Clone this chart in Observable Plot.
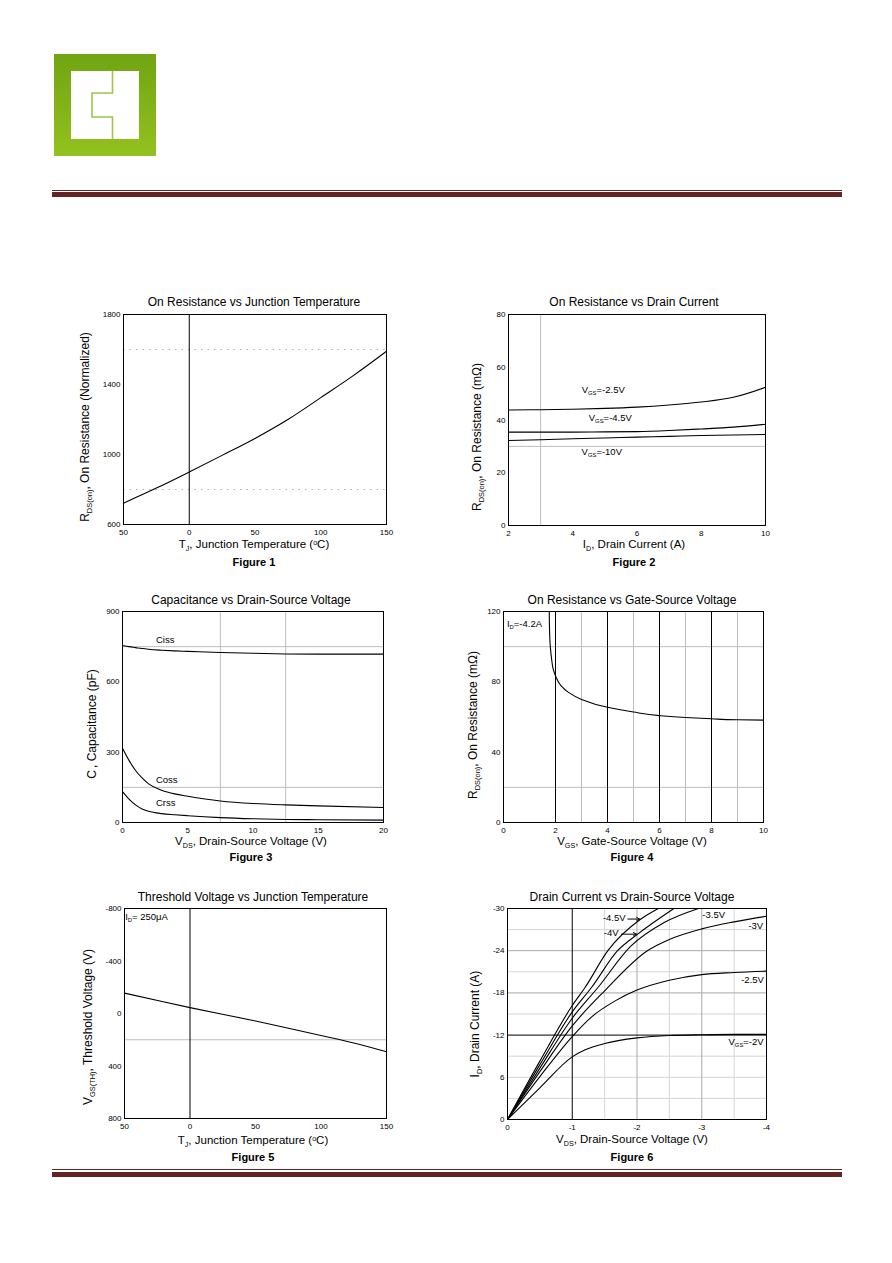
<!DOCTYPE html>
<html>
<head>
<meta charset="utf-8">
<script src="https://cdn.jsdelivr.net/npm/d3@7"></script>
<script src="https://cdn.jsdelivr.net/npm/@observablehq/plot@0.6"></script>
<style>
  html, body { margin: 0; padding: 0; background: #fff; }
  #page { position: relative; width: 892px; height: 1263px; background: #fff; overflow: hidden;
          font-family: 'Liberation Sans', Arial, Helvetica, sans-serif; color: #000; }
  .t { position: absolute; white-space: nowrap; line-height: 1; }
  .s { font-size: 0.62em; position: relative; top: 0.38em; }
  .u { font-size: 0.62em; position: relative; top: -0.45em; }
</style>
</head>
<body>
<div id="page"></div>
<script>
// ---------------- DATA ----------------
// Figure 1: On Resistance vs Junction Temperature
const f1Temp = [-50, -25, 0, 25, 50, 75, 100, 125, 150];
const f1Rds  = [722, 808, 900, 995, 1092, 1200, 1325, 1452, 1590];
const f1XTicks = [-50, 0, 50, 100, 150];
const f1XLabels = ["50", "0", "50", "100", "150"];
const f1YTicks = [600, 1000, 1400, 1800];
const f1Dotted = [800, 1600];
const f1Zero = [0];

// Figure 2: On Resistance vs Drain Current
const f2Id = [2, 3, 4, 5, 6, 7, 8, 9, 10];
const f2Vgs25 = [43.8, 43.9, 44.1, 44.4, 44.9, 45.7, 46.8, 48.6, 52.4];
const f2Vgs45 = [35.4, 35.4, 35.4, 35.5, 35.6, 36.0, 36.6, 37.3, 38.4];
const f2Vgs10 = [32.2, 32.5, 32.9, 33.2, 33.5, 33.8, 34.1, 34.3, 34.5];
const f2XTicks = [2, 4, 6, 8, 10];
const f2YTicks = [0, 20, 40, 60, 80];
const f2GridX = [3];
const f2GridY = [30];

// Figure 3: Capacitance vs Drain-Source Voltage
const f3Vds  = [0, 0.5, 1, 1.5, 2, 3, 4, 5, 7.5, 10, 12.5, 15, 20];
const f3Ciss = [755, 750, 746, 742, 739, 735, 732, 730, 725, 722, 719, 718, 718];
const f3Coss = [317, 265, 222, 190, 165, 138, 122, 112, 92, 81, 75, 71, 64];
const f3Crss = [132, 100, 75, 58, 48, 38, 33, 29, 21, 16, 13, 12, 10];
const f3XTicks = [0, 5, 10, 15, 20];
const f3YTicks = [0, 300, 600, 900];
const f3GridX = [7.5, 12.5];
const f3GridY = [150, 750];

// Figure 4: On Resistance vs Gate-Source Voltage
const f4Vgs = [1.76, 1.77, 1.8, 1.85, 1.9, 2, 2.2, 2.5, 3, 4, 5, 6, 7, 8, 9, 10];
const f4Rds = [120, 110, 100, 93, 88, 83.5, 78, 74, 70, 65.5, 62.8, 60.8, 59.7, 59, 58.4, 58.2];
const f4XTicks = [0, 2, 4, 6, 8, 10];
const f4YTicks = [0, 40, 80, 120];
const f4MajorX = [2, 4, 6, 8];
const f4MinorX = [3, 5, 7, 9];
const f4GridY = [20, 100];

// Figure 5: Threshold Voltage vs Junction Temperature
const f5Temp = [-50, 0, 50, 100, 125, 150];
const f5Vth  = [-155, -45, 57, 168, 225, 292];
const f5XTicks = [-50, 0, 50, 100, 150];
const f5XLabels = ["50", "0", "50", "100", "150"];
const f5YTicks = [-800, -400, 0, 400, 800];
const f5Zero = [0];
const f5GridY = [200];

// Figure 6: Drain Current vs Drain-Source Voltage
const f6Curves = [
  {vgs: "-2V",   vds: [0, -0.5, -1, -1.2, -1.5, -2, -2.5, -3, -3.5, -4],
                 id:  [0, -4.5, -8.9, -9.9, -10.8, -11.6, -11.95, -12.05, -12.1, -12.1]},
  {vgs: "-2.5V", vds: [0, -0.5, -1, -1.3, -1.67, -2, -2.5, -3, -3.5, -4],
                 id:  [0, -6.1, -11.8, -14.6, -16.9, -18.4, -19.8, -20.6, -20.9, -21.1]},
  {vgs: "-3V",   vds: [0, -0.5, -1, -1.5, -2.16, -2.5, -3, -3.5, -4],
                 id:  [0, -6.8, -13.3, -18.3, -24, -25.6, -27.1, -28.1, -28.9]},
  {vgs: "-3.5V", vds: [0, -0.5, -1, -1.4, -1.9, -2.42, -2.95],
                 id:  [0, -7.3, -14.4, -18.8, -24.6, -28, -30]},
  {vgs: "-4V",   vds: [0, -0.5, -1, -1.3, -1.7, -2.01, -2.57],
                 id:  [0, -7.8, -15.3, -18.8, -24, -26.35, -30]},
  {vgs: "-4.5V", vds: [0, -0.5, -1, -1.2, -1.55, -2.06, -2.33],
                 id:  [0, -8.3, -16.2, -18.8, -24, -28.5, -30]}
];
const f6XTicks = [0, -1, -2, -3, -4];
const f6YTicks = [0, -6, -12, -18, -24, -30];
const f6YLabels = ["0", "6", "-12", "-18", "-24", "-30"];
const f6MajorX = [-1];
const f6MidX = [-2, -3];
const f6LightX = [-1.5, -2.5, -3.5];
const f6MajorY = [-12];
const f6MidY = [-18, -24];
const f6LightY = [-3, -6, -9, -15, -21, -27];

// ---------------- HELPERS ----------------
const page = document.getElementById("page");
const TICKFONT = "'Liberation Sans Narrow', 'Liberation Sans', Arial, sans-serif";

function div(css) {
  const d = document.createElement("div");
  Object.assign(d.style, css);
  page.appendChild(d);
  return d;
}
function txt(html, x, y, o = {}) {
  const d = document.createElement("div");
  d.className = "t";
  d.innerHTML = html;
  const size = o.size || 12;
  d.style.fontSize = size + "px";
  if (o.weight) d.style.fontWeight = o.weight;
  d.style.left = x + "px";
  d.style.top = y + "px";
  const ax = o.anchor === "start" ? "0" : o.anchor === "end" ? "-100%" : "-50%";
  d.style.transform = `translate(${ax}, -50%)` + (o.rotate ? ` rotate(${o.rotate}deg)` : "");
  if (o.bg) { d.style.background = o.bg; d.style.padding = "0 4px"; }
  page.appendChild(d);
  return d;
}
function labelMap(ticks, labels) {
  const m = new Map(ticks.map((t, i) => [t, labels ? labels[i] : String(t)]));
  return d => m.get(d);
}
function makePlot(frame, x, y, marks) {
  const [L, T, R, B] = frame;
  const mL = 40, mT = 10, mR = 14, mB = 22;
  const svg = Plot.plot({
    width: R - L + mL + mR, height: B - T + mT + mB,
    marginLeft: mL, marginTop: mT, marginRight: mR, marginBottom: mB,
    style: {fontFamily: TICKFONT, fontSize: "8px", background: "transparent", overflow: "visible"},
    x: {tickSize: 0, tickPadding: 5, label: null, ...x},
    y: {tickSize: 0, tickPadding: 3, label: null, ...y},
    marks
  });
  svg.style.position = "absolute";
  svg.style.left = (L - mL) + "px";
  svg.style.top = (T - mT) + "px";
  page.appendChild(svg);
  return {svg, ox: L - mL, oy: T - mT};
}
function note(p, xv, yv, html, o = {}) {
  const px = p.ox + p.svg.scale("x").apply(xv);
  const py = p.oy + p.svg.scale("y").apply(yv);
  return txt(html, px, py, {size: 9.5, ...o});
}
const pts = (xs, ys) => xs.map((x, i) => ({x, y: ys[i]}));
const LW = 1.1;

// ---------------- HEADER / FOOTER ----------------
div({position: "absolute", left: "54px", top: "54px", width: "102px", height: "102px",
     background: "linear-gradient(#71a412, #93c11f)"});
div({position: "absolute", left: "71px", top: "71px", width: "68px", height: "68px", background: "#fff"});
(() => {
  const ns = "http://www.w3.org/2000/svg";
  const s = document.createElementNS(ns, "svg");
  s.setAttribute("width", "68"); s.setAttribute("height", "68");
  Object.assign(s.style, {position: "absolute", left: "71px", top: "71px"});
  const pl = document.createElementNS(ns, "polyline");
  pl.setAttribute("points", "41.5,0 41.5,22 21,22 21,46 41.5,46 41.5,68");
  pl.setAttribute("fill", "none"); pl.setAttribute("stroke", "#9cc54a"); pl.setAttribute("stroke-width", "1.6");
  s.appendChild(pl);
  page.appendChild(s);
})();
const RED = "#632423";
div({position: "absolute", left: "52px", top: "190px", width: "790px", height: "1px", background: RED});
div({position: "absolute", left: "52px", top: "192px", width: "790px", height: "5px", background: RED});
div({position: "absolute", left: "52px", top: "1169px", width: "790px", height: "1px", background: RED});
div({position: "absolute", left: "52px", top: "1172px", width: "790px", height: "5px", background: RED});

// ---------------- FIGURE 1 ----------------
const p1 = makePlot([122.5, 313.5, 385.5, 523.5],
  {domain: [-50, 150], ticks: f1XTicks, tickFormat: labelMap(f1XTicks, f1XLabels)},
  {domain: [600, 1800], ticks: f1YTicks, tickFormat: labelMap(f1YTicks)},
  [
    Plot.ruleY(f1Dotted, {stroke: "#b0b0b0", strokeDasharray: "1.5,5"}),
    Plot.ruleX(f1Zero, {stroke: "#000"}),
    Plot.frame({stroke: "#000"}),
    Plot.line(pts(f1Temp, f1Rds), {x: "x", y: "y", stroke: "#000", strokeWidth: LW, curve: "catmull-rom"})
  ]);
txt("On Resistance vs Junction Temperature", 254, 302, {size: 12});
txt('R<span class="s">DS(on)</span>, On Resistance (Normalized)', 85, 427, {size: 12, rotate: -90});
txt('T<span class="s">J</span>, Junction Temperature (<span class="u">o</span>C)', 254, 545, {size: 11.5});
txt("Figure 1", 254, 562, {size: 11, weight: "bold"});

// ---------------- FIGURE 2 ----------------
const p2 = makePlot([507.5, 313.5, 764.5, 524.5],
  {domain: [2, 10], ticks: f2XTicks, tickFormat: labelMap(f2XTicks)},
  {domain: [0, 80], ticks: f2YTicks, tickFormat: labelMap(f2YTicks)},
  [
    Plot.ruleX(f2GridX, {stroke: "#bdbdbd"}),
    Plot.ruleY(f2GridY, {stroke: "#bdbdbd"}),
    Plot.frame({stroke: "#000"}),
    Plot.line(pts(f2Id, f2Vgs25), {x: "x", y: "y", stroke: "#000", strokeWidth: LW, curve: "monotone-x"}),
    Plot.line(pts(f2Id, f2Vgs45), {x: "x", y: "y", stroke: "#000", strokeWidth: LW, curve: "monotone-x"}),
    Plot.line(pts(f2Id, f2Vgs10), {x: "x", y: "y", stroke: "#000", strokeWidth: LW, curve: "monotone-x"})
  ]);
note(p2, 4.31, 50.9, 'V<span class="s">GS</span>=-2.5V', {anchor: "start"});
note(p2, 4.53, 40.3, 'V<span class="s">GS</span>=-4.5V', {anchor: "start"});
note(p2, 4.18, 27.4, 'V<span class="s">GS</span>=-10V', {anchor: "start", bg: "#fff"});
txt("On Resistance vs Drain Current", 634, 302, {size: 12});
txt('R<span class="s">DS(on)</span>, On Resistance (mΩ)', 477, 437, {size: 12, rotate: -90});
txt('I<span class="s">D</span>, Drain Current (A)', 634, 545, {size: 11.5});
txt("Figure 2", 634, 562, {size: 11, weight: "bold"});

// ---------------- FIGURE 3 ----------------
const p3 = makePlot([121.5, 610.5, 382.5, 821.5],
  {domain: [0, 20], ticks: f3XTicks, tickFormat: labelMap(f3XTicks)},
  {domain: [0, 900], ticks: f3YTicks, tickFormat: labelMap(f3YTicks)},
  [
    Plot.ruleX(f3GridX, {stroke: "#bdbdbd"}),
    Plot.ruleY(f3GridY, {stroke: "#bdbdbd"}),
    Plot.frame({stroke: "#000"}),
    Plot.line(pts(f3Vds, f3Ciss), {x: "x", y: "y", stroke: "#000", strokeWidth: LW, curve: "monotone-x"}),
    Plot.line(pts(f3Vds, f3Coss), {x: "x", y: "y", stroke: "#000", strokeWidth: LW, curve: "monotone-x"}),
    Plot.line(pts(f3Vds, f3Crss), {x: "x", y: "y", stroke: "#000", strokeWidth: LW, curve: "monotone-x"})
  ]);
note(p3, 2.64, 776, "Ciss", {anchor: "start"});
note(p3, 2.64, 179, "Coss", {anchor: "start"});
note(p3, 2.64, 81, "Crss", {anchor: "start"});
txt("Capacitance vs Drain-Source Voltage", 251, 600, {size: 12});
txt('C<span class="s">&nbsp;</span>, Capacitance (pF)', 92, 724, {size: 12, rotate: -90});
txt('V<span class="s">DS</span>, Drain-Source Voltage (V)', 251, 842, {size: 11.5});
txt("Figure 3", 251, 857, {size: 11, weight: "bold"});

// ---------------- FIGURE 4 ----------------
const p4 = makePlot([502.5, 610.5, 762.5, 821.5],
  {domain: [0, 10], ticks: f4XTicks, tickFormat: labelMap(f4XTicks)},
  {domain: [0, 120], ticks: f4YTicks, tickFormat: labelMap(f4YTicks)},
  [
    Plot.ruleX(f4MinorX, {stroke: "#bdbdbd"}),
    Plot.ruleY(f4GridY, {stroke: "#bdbdbd"}),
    Plot.ruleX(f4MajorX, {stroke: "#000"}),
    Plot.frame({stroke: "#000"}),
    Plot.line(pts(f4Vgs, f4Rds), {x: "x", y: "y", stroke: "#000", strokeWidth: LW, curve: "monotone-y"})
  ]);
note(p4, 0.17, 112.6, 'I<span class="s">D</span>=-4.2A', {anchor: "start"});
txt("On Resistance vs Gate-Source Voltage", 632, 600, {size: 12});
txt('R<span class="s">DS(on)</span>, On Resistance (mΩ)', 473, 725, {size: 12, rotate: -90});
txt('V<span class="s">GS</span>, Gate-Source Voltage (V)', 632, 842, {size: 11.5});
txt("Figure 4", 632, 857, {size: 11, weight: "bold"});

// ---------------- FIGURE 5 ----------------
const p5 = makePlot([123.5, 907.5, 385.5, 1117.5],
  {domain: [-50, 150], ticks: f5XTicks, tickFormat: labelMap(f5XTicks, f5XLabels)},
  {domain: [800, -800], ticks: f5YTicks, tickFormat: labelMap(f5YTicks)},
  [
    Plot.ruleY(f5GridY, {stroke: "#bdbdbd"}),
    Plot.ruleX(f5Zero, {stroke: "#000"}),
    Plot.frame({stroke: "#000"}),
    Plot.line(pts(f5Temp, f5Vth), {x: "x", y: "y", stroke: "#000", strokeWidth: LW, curve: "catmull-rom"})
  ]);
note(p5, -48.7, -729, 'I<span class="s">D</span>= 250μA', {anchor: "start"});
txt("Threshold Voltage vs Junction Temperature", 253, 897, {size: 12});
txt('V<span class="s">GS(TH)</span>, Threshold Voltage (V)', 88, 1027, {size: 12, rotate: -90});
txt('T<span class="s">J</span>, Junction Temperature (<span class="u">o</span>C)', 253, 1141, {size: 11.5});
txt("Figure 5", 253, 1157, {size: 11, weight: "bold"});

// ---------------- FIGURE 6 ----------------
const p6 = makePlot([506.5, 907.5, 765.5, 1118.5],
  {domain: [0, -4], ticks: f6XTicks, tickFormat: labelMap(f6XTicks)},
  {domain: [0, -30], ticks: f6YTicks, tickFormat: labelMap(f6YTicks, f6YLabels)},
  [
    Plot.ruleX(f6LightX, {stroke: "#d6d6d6"}),
    Plot.ruleY(f6LightY, {stroke: "#d6d6d6"}),
    Plot.ruleX(f6MidX, {stroke: "#a9a9a9"}),
    Plot.ruleY(f6MidY, {stroke: "#a9a9a9"}),
    Plot.ruleX(f6MajorX, {stroke: "#000"}),
    Plot.ruleY(f6MajorY, {stroke: "#000"}),
    Plot.frame({stroke: "#000"}),
    ...f6Curves.map(c => Plot.line(pts(c.vds, c.id), {x: "x", y: "y", stroke: "#000", strokeWidth: LW, curve: "monotone-x"})),
    Plot.arrow([{x1: -1.86, y1: -28.5, x2: -2.04, y2: -28.5}, {x1: -1.76, y1: -26.35, x2: -1.99, y2: -26.35}],
      {x1: "x1", y1: "y1", x2: "x2", y2: "y2", stroke: "#000", strokeWidth: 1, headLength: 5})
  ]);
note(p6, -1.84, -28.5, "-4.5V", {anchor: "end"});
note(p6, -1.73, -26.35, "-4V", {anchor: "end"});
note(p6, -3.2, -28.96, "-3.5V");
note(p6, -3.85, -27.3, "-3V");
note(p6, -3.80, -19.7, "-2.5V");
note(p6, -3.70, -10.9, 'V<span class="s">GS</span>=-2V');
txt("Drain Current vs Drain-Source Voltage", 632, 897, {size: 12});
txt('I<span class="s">D</span>, Drain Current (A)', 475, 1024, {size: 12, rotate: -90});
txt('V<span class="s">DS</span>, Drain-Source Voltage (V)', 632, 1140, {size: 11.5});
txt("Figure 6", 632, 1157, {size: 11, weight: "bold"});
</script>
</body>
</html>
